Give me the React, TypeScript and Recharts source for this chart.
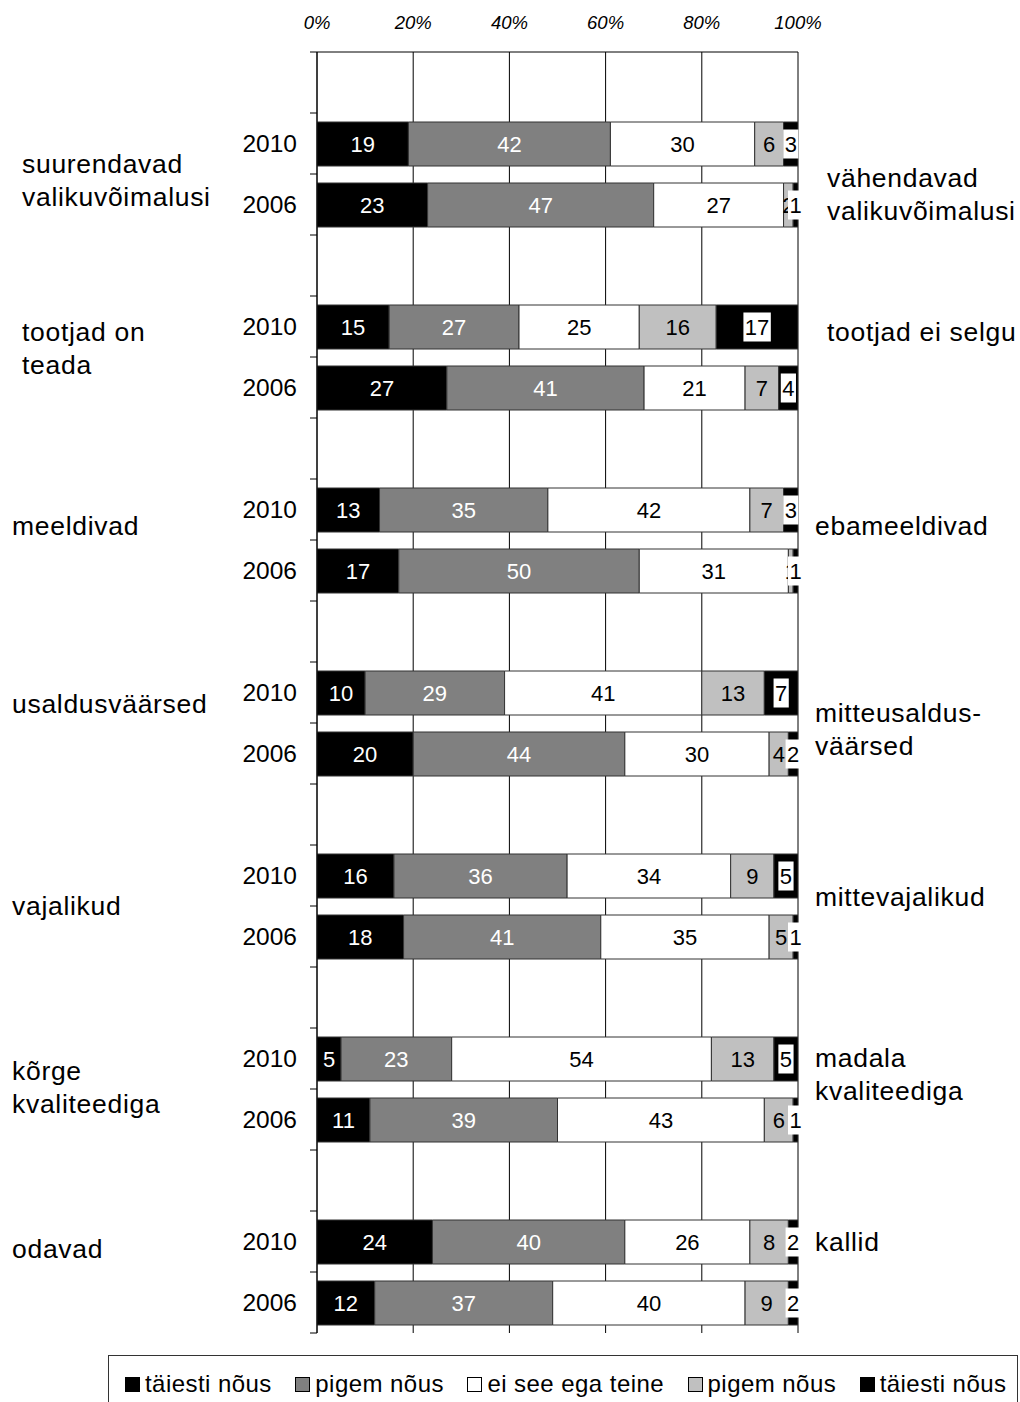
import React from 'react';
import { BarChart, Bar, XAxis, YAxis, CartesianGrid, LabelList } from 'recharts';

// ---------- data ----------
const leftLabels: string[][] = [
  ['suurendavad', 'valikuvõimalusi'],
  ['tootjad on', 'teada'],
  ['meeldivad'],
  ['usaldusväärsed'],
  ['vajalikud'],
  ['kõrge', 'kvaliteediga'],
  ['odavad'],
];
const rightLabels: string[][] = [
  ['vähendavad', 'valikuvõimalusi'],
  ['tootjad ei selgu'],
  ['ebameeldivad'],
  ['mitteusaldus-', 'väärsed'],
  ['mittevajalikud'],
  ['madala', 'kvaliteediga'],
  ['kallid'],
];
const years = ['2010', '2006'];
// per bar, in order: group1 2010, group1 2006, group2 2010, ...
const fullyAgreeLeft = [19, 23, 15, 27, 13, 17, 10, 20, 16, 18, 5, 11, 24, 12];
const ratherAgreeLeft = [42, 47, 27, 41, 35, 50, 29, 44, 36, 41, 23, 39, 40, 37];
const neutral = [30, 27, 25, 21, 42, 31, 41, 30, 34, 35, 54, 43, 26, 40];
const ratherAgreeRight = [6, 2, 16, 7, 7, 1, 13, 4, 9, 5, 13, 6, 8, 9];
const fullyAgreeRight = [3, 1, 17, 4, 3, 1, 7, 2, 5, 1, 5, 1, 2, 2];
const seriesNames = ['täiesti nõus', 'pigem nõus', 'ei see ega teine', 'pigem nõus', 'täiesti nõus'];
const xTicks = [0, 20, 40, 60, 80, 100];

// ---------- styles ----------
const seriesKeys = ['s1', 's2', 's3', 's4', 's5'];
const seriesColors = ['#000000', '#808080', '#ffffff', '#c0c0c0', '#000000'];
const labelColors = ['#ffffff', '#ffffff', '#000000', '#000000', '#000000'];
// manual placement of the side texts in the original (x and baseline shift from group centre)
const leftX = [22, 22, 12, 12, 12, 12, 12];
const rightX = [827, 827, 815, 815, 815, 815, 815];
const leftShift = [-1.3, -16.5, -5.5, -10.5, 8.5, -9.5, -14.5];
const rightShift = [12.7, -16.5, -5.5, -1.5, -0.5, -22.5, -21.5];
const LINE_H = 33;

const FONT = '"Liberation Sans", Arial, Helvetica, sans-serif';
const W = 1020;
const H = 1402;
const PLOT_LEFT = 317;
const PLOT_RIGHT = 798;
const PLOT_TOP = 52;
const PLOT_BOTTOM = 1333;
const X_AXIS_H = 30;
const Y_AXIS_W = 60;
const YEAR_X = 297;

// ---------- rows ----------
type Row = { key: string; year: string; group: number; [k: string]: any };
const rows: Row[] = [];
leftLabels.forEach((_, g) => {
  rows.push({ key: `g${g}-gap`, year: '', group: g });
  years.forEach((yr, j) => {
    const i = g * 2 + j;
    rows.push({
      key: `g${g}-${yr}`,
      year: yr,
      group: g,
      s1: fullyAgreeLeft[i],
      s2: ratherAgreeLeft[i],
      s3: neutral[i],
      s4: ratherAgreeRight[i],
      s5: fullyAgreeRight[i],
    });
  });
});
const rowByKey: Record<string, Row> = {};
rows.forEach((r) => (rowByKey[r.key] = r));
const ROW_H = (PLOT_BOTTOM - PLOT_TOP) / rows.length;

const groupText = (lines: string[], x: number, y0: number, keyPrefix: string) =>
  lines.map((ln, k) => (
    <text
      key={keyPrefix + k}
      x={x}
      y={y0 + k * LINE_H}
      fontSize={26.5}
      letterSpacing={0.7}
      fontFamily={FONT}
      fill="#000"
      textAnchor="start"
    >
      {ln}
    </text>
  ));

const YTick = (props: any) => {
  const { y, payload, index } = props;
  const row = rowByKey[payload.value];
  const half = ROW_H / 2;
  if (!row) return null;
  const isLast = index === rows.length - 1;
  const gc = y + half;
  const g = row.group;
  return (
    <g>
      <line x1={PLOT_LEFT - 7} x2={PLOT_LEFT} y1={y - half} y2={y - half} stroke="#000" />
      {isLast && <line x1={PLOT_LEFT - 7} x2={PLOT_LEFT} y1={y + half} y2={y + half} stroke="#000" />}
      {row.year && (
        <text x={YEAR_X} y={y + 8.5} textAnchor="end" fontSize={24.5} fontFamily={FONT} fill="#000">
          {row.year}
        </text>
      )}
      {row.year === years[0] && groupText(leftLabels[g], leftX[g], gc + leftShift[g], 'l')}
      {row.year === years[0] && groupText(rightLabels[g], rightX[g], gc + rightShift[g], 'r')}
    </g>
  );
};

const XTick = (props: any) => {
  const { x, payload } = props;
  return (
    <text x={x} y={29} textAnchor="middle" fontSize={18.5} fontStyle="italic" fontFamily={FONT} fill="#000">
      {payload.value}%
    </text>
  );
};

const makeLabel = (si: number) => (props: any) => {
  const { x, y, width, height, value } = props;
  if (value === undefined || value === null) return null;
  const cx = x + width / 2;
  const cy = y + height / 2;
  const fs = 22;
  const txt = String(value);
  const boxW = txt.length * 12.2 + 3;
  return (
    <g>
      {si === 4 && <rect x={cx - boxW / 2} y={cy - 14.5} width={boxW} height={29} fill="#fff" />}
      <text x={cx} y={cy + 8} textAnchor="middle" fontSize={fs} fontFamily={FONT} fill={labelColors[si]}>
        {txt}
      </text>
    </g>
  );
};

const LegendBox = () => (
  <div
    style={{
      position: 'absolute',
      left: 108,
      top: 1355,
      width: 910,
      height: 70,
      border: '1px solid #333',
      boxSizing: 'border-box',
      display: 'flex',
      alignItems: 'flex-start',
      paddingLeft: 16,
      paddingTop: 16,
      gap: 23.5,
      fontFamily: FONT,
    }}
  >
    {seriesNames.map((n, i) => (
      <div key={i} style={{ display: 'flex', alignItems: 'center', gap: 5 }}>
        <div
          style={{
            width: 15,
            height: 15,
            background: seriesColors[i],
            border: '1px solid #000',
            boxSizing: 'border-box',
          }}
        />
        <span style={{ fontSize: 24, letterSpacing: 0.45, lineHeight: '24px', color: '#000' }}>{n}</span>
      </div>
    ))}
  </div>
);

export default function App() {
  return (
    <div style={{ position: 'absolute', left: 0, top: 0, width: W, height: H, background: '#fff', fontFamily: FONT }}>
      <BarChart
        width={W}
        height={H}
        data={rows}
        layout="vertical"
        barSize={44}
        margin={{
          top: PLOT_TOP - X_AXIS_H,
          left: PLOT_LEFT - Y_AXIS_W,
          right: W - PLOT_RIGHT,
          bottom: H - PLOT_BOTTOM,
        }}
      >
        <CartesianGrid horizontal={false} stroke="#000" strokeWidth={1} />
        <XAxis
          type="number"
          orientation="top"
          domain={[0, 100]}
          ticks={xTicks}
          height={X_AXIS_H}
          tick={<XTick />}
          tickLine={false}
          axisLine={{ stroke: '#000' }}
          allowDataOverflow
        />
        <YAxis
          type="category"
          dataKey="key"
          width={Y_AXIS_W}
          interval={0}
          tick={<YTick />}
          tickLine={false}
          axisLine={{ stroke: '#000' }}
        />
        {seriesKeys.map((k, si) => (
          <Bar
            key={k}
            dataKey={k}
            stackId="a"
            fill={seriesColors[si]}
            stroke="#333"
            strokeWidth={1}
            isAnimationActive={false}
          >
            <LabelList dataKey={k} content={makeLabel(si)} />
          </Bar>
        ))}
      </BarChart>
      <LegendBox />
    </div>
  );
}
